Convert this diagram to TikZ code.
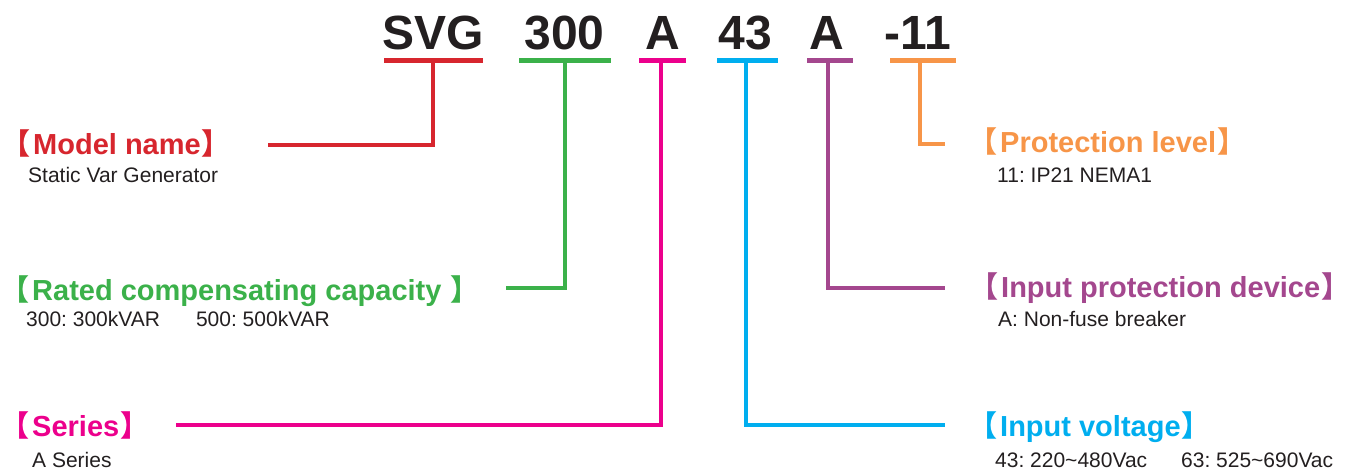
\documentclass[tikz,border=0pt]{standalone}
\usepackage{fontspec}
\setmainfont{Liberation Sans}
\newfontfamily\cjk{Noto Sans CJK SC}
\definecolor{ink}{HTML}{231F20}
\definecolor{cred}{HTML}{D7262E}
\definecolor{cgreen}{HTML}{3BB14A}
\definecolor{cmag}{HTML}{EC008C}
\definecolor{cblue}{HTML}{00AEEF}
\definecolor{cpurple}{HTML}{A4478E}
\definecolor{corange}{HTML}{F79548}
\newcommand{\lbr}{{\cjk\bfseries 【}\kern3pt}
\newcommand{\rbr}{\kern1pt{\cjk\bfseries 】}}
\frenchspacing
\tikzset{
  code/.style={font=\fontsize{48}{48}\selectfont\bfseries, text=ink, inner sep=0pt, anchor=base},
  title/.style={font=\fontsize{29}{29}\selectfont\bfseries, inner sep=0pt, anchor=base west},
  sub/.style={font=\fontsize{21}{21}\selectfont, text=ink, inner sep=0pt, anchor=base west},
  bar/.style={line width=4.5pt},
  link/.style={line width=3.5pt},
}
\begin{document}
\begin{tikzpicture}[x=1pt,y=-1pt]
  \useasboundingbox (0,0) rectangle (1354,470);

  % model code
  \node[code] (svg) at (433.5,50) {SVG};
  \node[code] (cap) at (564.5,50) {300};
  \node[code] (ser) at (663,50) {A};
  \node[code] (vol) at (745,50) {43};
  \node[code] (dev) at (827,50) {A};
  \node[code] (lev) at (918,50) {-11};

  % underlines
  \path[coordinate] (384,60.5) coordinate(svgL) (483,60.5) coordinate(svgR)
                    (519,60.5) coordinate(capL) (611,60.5) coordinate(capR)
                    (639,60.5) coordinate(serL) (686,60.5) coordinate(serR)
                    (717,60.5) coordinate(volL) (778,60.5) coordinate(volR)
                    (807,60.5) coordinate(devL) (853,60.5) coordinate(devR)
                    (890,60.5) coordinate(levL) (956,60.5) coordinate(levR);
  \draw[bar,cred]    (svgL) -- (svgR);
  \draw[bar,cgreen]  (capL) -- (capR);
  \draw[bar,cmag]    (serL) -- (serR);
  \draw[bar,cblue]   (volL) -- (volR);
  \draw[bar,cpurple] (devL) -- (devR);
  \draw[bar,corange] (levL) -- (levR);

  % labels left
  \node[title,text=cred] (model) at (1,155) {\lbr Model name\rbr};
  \node[sub] (modelsub) at (28,183) {Static Var Generator};
  \node[title,text=cgreen] (rated) at (0,300) {\lbr Rated compensating capacity \rbr};
  \node[sub] (ratedsub) at (26,326) {300: 300kVAR\hspace{36pt}500: 500kVAR};
  \node[title,text=cmag] (series) at (0,436) {\lbr Series\rbr};
  \node[sub] (seriessub) at (32,467) {A Series};

  % labels right
  \node[title,text=corange] (level) at (968,153) {\lbr Protection level\rbr};
  \node[sub] (levelsub) at (997,183) {11: IP21 NEMA1};
  \node[title,text=cpurple] (device) at (969,298) {\lbr Input protection device\rbr};
  \node[sub] (devicesub) at (998,326) {A: Non-fuse breaker};
  \node[title,text=cblue] (volt) at (968,436) {\lbr Input voltage\rbr};
  \node[sub] (voltsub) at (995,467) {43: 220\textasciitilde480Vac\hspace{34pt}63: 525\textasciitilde690Vac};

  % connectors
  \path[coordinate] (433,60.5) coordinate(svgT)  (268,145) coordinate(modelE)
                    (565,60.5) coordinate(capT)  (506,288) coordinate(ratedE)
                    (661,60.5) coordinate(serT)  (176,425) coordinate(seriesE)
                    (746,60.5) coordinate(volT)  (945,425) coordinate(voltE)
                    (828,60.5) coordinate(devT)  (945,288) coordinate(deviceE)
                    (920,60.5) coordinate(levT)  (945,144) coordinate(levelE);
  \draw[link,cred]    (svgT) |- (modelE);
  \draw[link,cgreen]  (capT) |- (ratedE);
  \draw[link,cmag]    (serT) |- (seriesE);
  \draw[link,cblue]   (volT) |- (voltE);
  \draw[link,cpurple] (devT) |- (deviceE);
  \draw[link,corange] (levT) |- (levelE);
\end{tikzpicture}
\end{document}
